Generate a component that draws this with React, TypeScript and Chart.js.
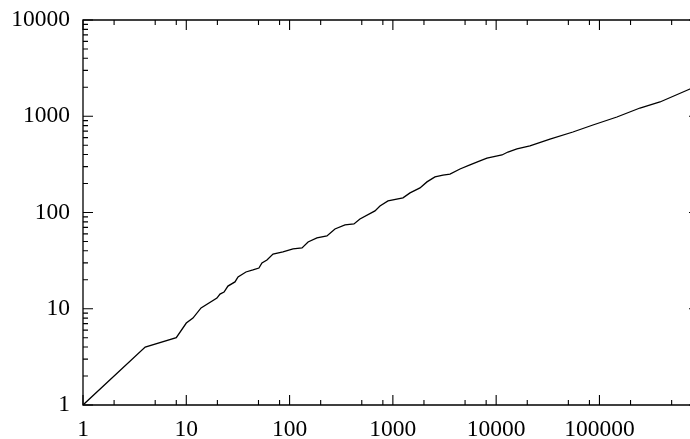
import { useEffect, useRef } from 'react';
import { Chart, registerables } from 'chart.js';

Chart.register(...registerables);

const xValues = [1, 4, 8, 10, 11.6, 13.9, 19.8, 21.2, 23.2, 25.3, 29.6, 31.7, 37.8, 44.2, 50.5, 54, 60.4, 69.1, 86.3, 108, 132, 151, 184, 230, 275, 344, 420, 480, 671, 750, 897, 1253, 1466, 1830, 2138, 2557, 3055, 3573, 4466, 5575, 6966, 8147, 11380, 13000, 15890, 21230, 33190, 55350, 86470, 147600, 246700, 385400, 751600, 920000];
const yValues = [1, 4, 5, 7.1, 8, 10.2, 12.9, 14.2, 14.9, 17.2, 19, 21.4, 24.1, 25.3, 26.5, 29.9, 32.1, 37, 38.9, 41.8, 42.8, 49.4, 54.4, 57, 67.4, 74.2, 76, 85.6, 104, 117, 132, 142, 160, 180, 208, 234, 245, 251, 283, 312, 343, 368, 396, 425, 457, 491, 580, 686, 811, 982, 1218, 1407, 1919, 2110];

const xMajorTicks = [1, 10, 100, 1000, 10000, 100000];
const xMinorTicks = [2, 5, 8, 20, 50, 80, 200, 500, 800, 2000, 5000, 8000, 20000, 50000, 80000, 200000, 500000, 800000];
const yMajorTicks = [1, 10, 100, 1000, 10000];
const yMinorTicks = [
  2, 3, 4, 5, 6, 7, 8, 9,
  20, 30, 40, 50, 60, 70, 80, 90,
  200, 300, 400, 500, 600, 700, 800, 900,
  2000, 3000, 4000, 5000, 6000, 7000, 8000, 9000,
];
const xMin = 1;
const xMax = 920000;
const yMin = 1;
const yMax = 10000;

const FONT = { family: '"Liberation Serif", "Times New Roman", serif', size: 23.5 };

const gnuplotAxes = {
  id: 'gnuplotAxes',
  afterDatasetsDraw(chart: any) {
    const { ctx, chartArea: a, scales } = chart;
    ctx.save();
    ctx.strokeStyle = '#000';
    ctx.lineWidth = 1.3;
    ctx.beginPath();
    ctx.rect(a.left, a.top, a.right - a.left, a.bottom - a.top);
    ctx.stroke();
    ctx.lineWidth = 1.1;
    ctx.beginPath();
    const xt = (vals: number[], len: number) => {
      vals.forEach((v) => {
        if (v < xMin || v > xMax) return;
        const px = scales.x.getPixelForValue(v);
        ctx.moveTo(px, a.bottom);
        ctx.lineTo(px, a.bottom - len);
        ctx.moveTo(px, a.top);
        ctx.lineTo(px, a.top + len);
      });
    };
    const yt = (vals: number[], len: number) => {
      vals.forEach((v) => {
        if (v < yMin || v > yMax) return;
        const py = scales.y.getPixelForValue(v);
        ctx.moveTo(a.left, py);
        ctx.lineTo(a.left + len, py);
        ctx.moveTo(a.right, py);
        ctx.lineTo(a.right - len, py);
      });
    };
    xt(xMajorTicks, 10);
    xt(xMinorTicks, 5);
    yt(yMajorTicks, 10);
    yt(yMinorTicks, 5);
    ctx.stroke();
    ctx.restore();
  },
};

const isMajor = (list: number[], v: number) => list.some((m) => Math.abs(m - v) < 1e-9 * m);

export default function App() {
  const ref = useRef<HTMLCanvasElement | null>(null);
  useEffect(() => {
    const canvas = ref.current;
    if (!canvas) return;
    const points = xValues.map((x, i) => ({ x, y: yValues[i] }));
    const chart = new Chart(canvas, {
      type: 'line',
      data: {
        datasets: [
          {
            data: points,
            borderColor: '#000',
            borderWidth: 1.3,
            pointRadius: 0,
            tension: 0,
            fill: false,
          },
        ],
      },
      options: {
        responsive: false,
        devicePixelRatio: 1,
        animation: false,
        events: [],
        layout: { padding: { top: 20, right: 1, left: 0, bottom: 0 } },
        plugins: { legend: { display: false }, tooltip: { enabled: false } },
        scales: {
          x: {
            type: 'logarithmic',
            position: 'bottom',
            min: xMin,
            max: xMax,
            grid: { display: false, drawTicks: false },
            border: { display: false },
            afterBuildTicks: (s: any) => {
              s.ticks = [...xMajorTicks, ...xMinorTicks]
                .filter((v) => v >= xMin && v <= xMax)
                .sort((p, q) => p - q)
                .map((v) => ({ value: v, major: isMajor(xMajorTicks, v) }));
            },
            afterFit: (s: any) => {
              s.height = 34;
              s.paddingLeft = 0;
              s.paddingRight = 0;
            },
            ticks: {
              autoSkip: false,
              maxRotation: 0,
              minRotation: 0,
              padding: 11,
              color: '#000',
              font: FONT,
              callback: (v: any) => (isMajor(xMajorTicks, Number(v)) ? String(v) : ''),
            },
          },
          y: {
            type: 'logarithmic',
            position: 'left',
            min: yMin,
            max: yMax,
            grid: { display: false, drawTicks: false },
            border: { display: false },
            afterBuildTicks: (s: any) => {
              s.ticks = [...yMajorTicks, ...yMinorTicks]
                .sort((p, q) => p - q)
                .map((v) => ({ value: v, major: isMajor(yMajorTicks, v) }));
            },
            afterFit: (s: any) => {
              s.width = 83;
              s.paddingTop = 0;
              s.paddingBottom = 0;
            },
            ticks: {
              autoSkip: false,
              padding: 13,
              color: '#000',
              font: FONT,
              callback: (v: any) => (isMajor(yMajorTicks, Number(v)) ? String(v) : ''),
            },
          },
        },
      },
      plugins: [gnuplotAxes],
    } as any);
    return () => chart.destroy();
  }, []);
  return (
    <div
      style={{
        position: 'absolute',
        left: 0,
        top: 0,
        width: 690,
        height: 439,
        overflow: 'hidden',
        background: '#fff',
      }}
    >
      <canvas ref={ref} width={700} height={439} style={{ width: 700, height: 439, display: 'block' }} />
    </div>
  );
}
